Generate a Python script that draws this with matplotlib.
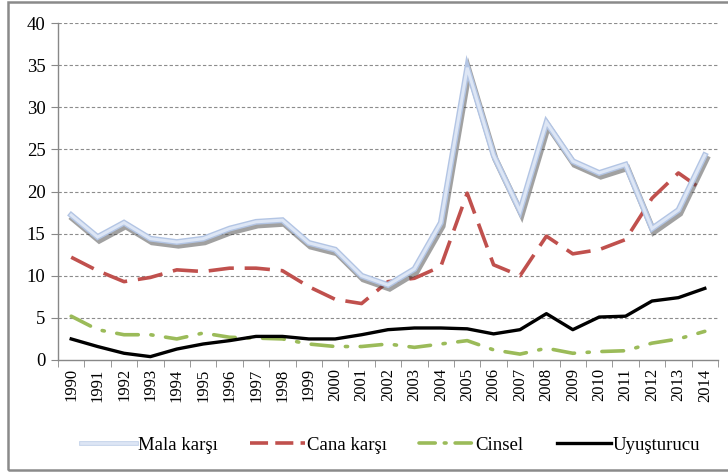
import matplotlib.pyplot as plt
import matplotlib.patheffects as pe
from matplotlib.patches import Rectangle
from matplotlib.lines import Line2D
import numpy as np

plt.rcParams['font.family'] = ['Liberation Serif', 'DejaVu Serif']

years = list(range(1990, 2015))
mala = [17.2, 14.6, 16.3, 14.4, 14.0, 14.4, 15.6, 16.4, 16.6, 13.9, 13.1, 10.0, 8.9,
        10.8, 16.3, 34.7, 24.3, 17.7, 28.2, 23.6, 22.2, 23.2, 15.6, 17.8, 24.3]
cana = [12.2, 10.6, 9.3, 9.8, 10.7, 10.5, 10.9, 10.9, 10.6, 8.7, 7.2, 6.7, 9.3,
        9.7, 11.1, 19.8, 11.3, 10.0, 14.7, 12.6, 13.1, 14.3, 19.2, 22.2, 20.0]
cinsel = [5.2, 3.6, 3.0, 3.0, 2.5, 3.2, 2.7, 2.6, 2.5, 1.9, 1.6, 1.6, 1.9,
          1.5, 1.9, 2.3, 1.2, 0.7, 1.4, 0.8, 1.0, 1.1, 2.0, 2.5, 3.4]
uyus = [2.5, 1.6, 0.8, 0.4, 1.3, 1.9, 2.3, 2.8, 2.8, 2.5, 2.5, 3.0, 3.6,
        3.8, 3.8, 3.7, 3.1, 3.6, 5.5, 3.6, 5.1, 5.2, 7.0, 7.4, 8.5]
labels = ["Mala karşı", "Cana karşı", "Cinsel", "Uyuşturucu"]

fig = plt.figure(figsize=(7.28, 4.73), dpi=100)
ax = fig.add_axes([58/728, 1-360/473, 660/728, 337/473])
x = np.arange(len(years))

# mala karşı: light blue with glow + drop shadow
ax.plot(x, mala, color='#dde6f5', lw=2.2, zorder=4, solid_joinstyle='miter',
        path_effects=[pe.SimpleLineShadow(offset=(1.2, -2.5), shadow_color='#444444',
                                          alpha=0.5, linewidth=4.5),
                      pe.Stroke(linewidth=4.2, foreground='#b3c5e4'),
                      pe.Normal()])
ax.plot(x, cana, color='#c0504d', lw=2.6, dashes=(7, 3), zorder=3)
ax.plot(x, cinsel, color='#9bbb59', lw=2.6, dashes=(6, 3.5, 0.6, 3.5),
        dash_capstyle='round', zorder=3)
ax.plot(x, uyus, color='black', lw=2.4, zorder=3)

ax.set_xlim(-0.5, len(years) - 0.5)
ax.set_ylim(0, 40)
ax.set_yticks(range(0, 41, 5))
ax.set_xticks(x)
ax.set_xticklabels([str(y) for y in years], rotation=90, fontsize=12)
ax.set_xticks(np.arange(-0.5, len(years), 1), minor=True)
ax.tick_params(axis='x', which='major', length=0, pad=6)
ax.tick_params(axis='x', which='minor', length=5, color='#888888', direction='out')
ax.tick_params(axis='y', length=5, color='#888888', direction='out', labelsize=13.5, pad=4)

for v in range(5, 41, 5):
    ax.axhline(v, color='#8c8c8c', lw=0.8, dashes=(3, 2), zorder=1)

for s in ['top', 'right']:
    ax.spines[s].set_visible(False)
for s in ['left', 'bottom']:
    ax.spines[s].set_color('#888888')
    ax.spines[s].set_linewidth(1.0)

# legend handles (no shadow, like the original)
h1 = Line2D([], [], color='#dde6f5', lw=2.0,
            path_effects=[pe.Stroke(linewidth=3.4, foreground='#c3d2ea'), pe.Normal()])
h2 = Line2D([], [], color='#c0504d', lw=2.6, dashes=(5, 2))
h3 = Line2D([], [], color='#9bbb59', lw=2.6, dashes=(4.5, 2.5, 0.5, 2.5), dash_capstyle='round')
h4 = Line2D([], [], color='black', lw=2.4)

fig.legend([h1, h2, h3, h4], labels, loc='center', bbox_to_anchor=(0.537, 1-445/473),
           ncol=4, frameon=False, fontsize=13.5, handlelength=2.9,
           handletextpad=0.1, columnspacing=1.75)

fig.patches.append(Rectangle((8/728, 3/473), 1.1, 1-5/473, transform=fig.transFigure,
                             fill=False, edgecolor='#8a8a8a', lw=1.8))

fig.savefig('out.png', dpi=100)
